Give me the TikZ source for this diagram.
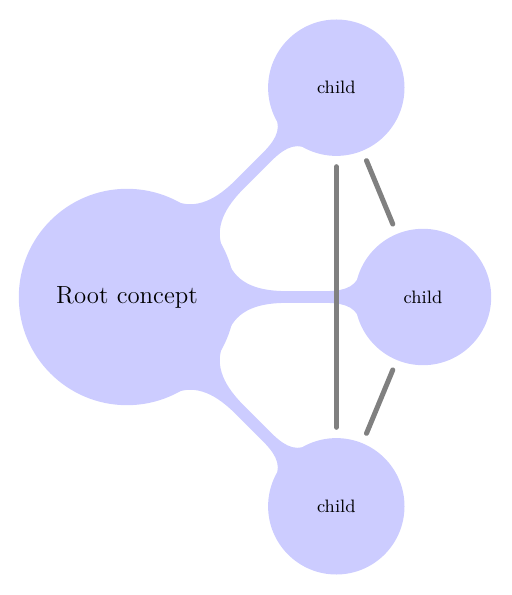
\documentclass[tikz,border=0pt]{standalone}
\usetikzlibrary{mindmap}
\begin{document}
\begin{tikzpicture}[mindmap, concept color=blue!20,
  rootc/.style={concept, minimum size=107pt, text width=80pt, inner sep=0pt, font=\fontsize{12.4pt}{15pt}\selectfont},
  childc/.style={concept, minimum size=67pt, text width=40pt, inner sep=0pt, font=\small},
  level 1 concept/.append style={level distance=148pt},
  link/.style={draw=gray, line width=2.5pt, line cap=round, shorten <=6pt, shorten >=6pt}]
  \useasboundingbox (-63.5pt,-149pt) rectangle (192.5pt,148.5pt);
  \node[rootc] (root) {Root concept}
    child[grow=45, level distance=148pt] {node[childc] (c1) {child}}
    child[grow=0, level distance=148pt] {node[childc] (c2) {child}}
    child[grow=-45, level distance=148pt] {node[childc] (c3) {child}};
  \path[link] (c1) -- (c3);
  \path[link] (c1) -- (c2);
  \path[link] (c3) -- (c2);
\end{tikzpicture}
\end{document}
